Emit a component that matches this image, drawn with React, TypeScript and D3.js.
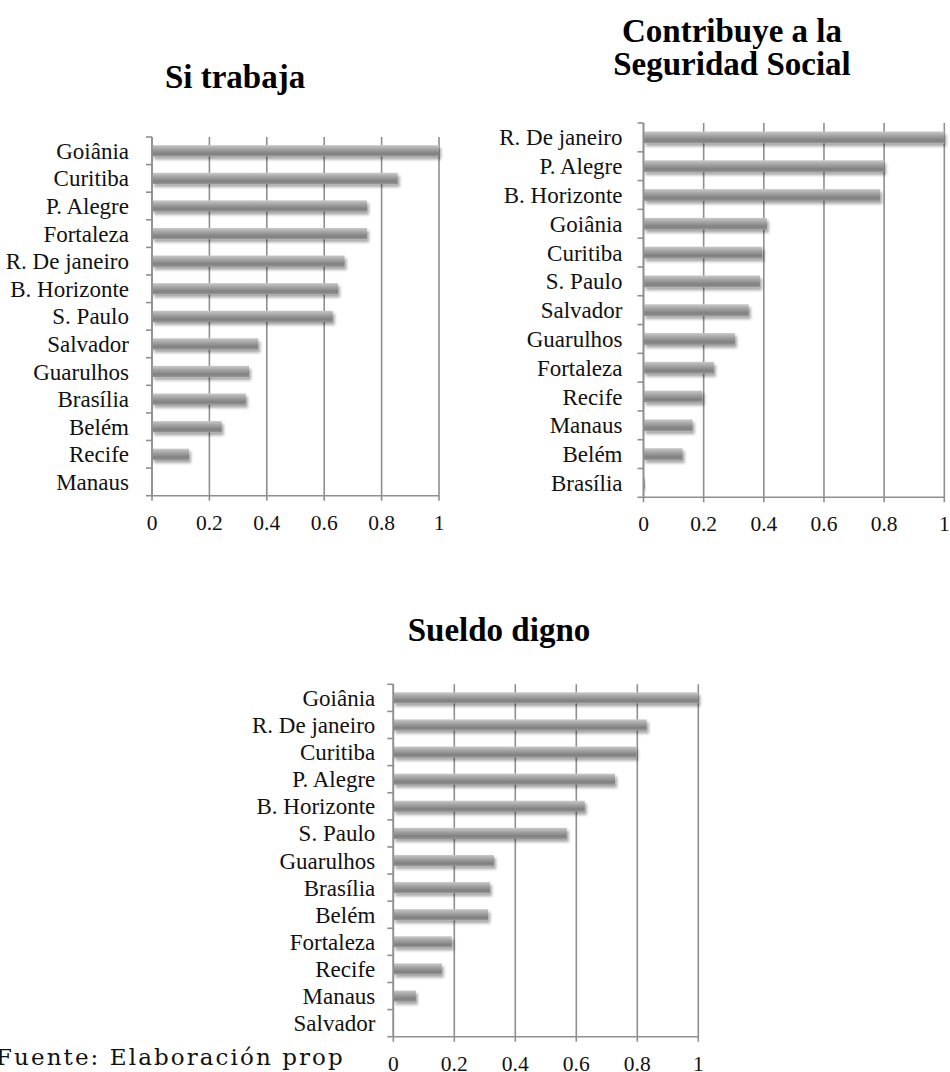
import React from "react";
import * as d3 from "d3";

// ---------- data ----------
const xTicks = [0, 0.2, 0.4, 0.6, 0.8, 1];
const xTickLabels = ["0", "0.2", "0.4", "0.6", "0.8", "1"];

const trabajaCities = ["Goiânia", "Curitiba", "P. Alegre", "Fortaleza", "R. De janeiro", "B. Horizonte", "S. Paulo", "Salvador", "Guarulhos", "Brasília", "Belém", "Recife", "Manaus"];
const trabajaValues = [1.0, 0.856, 0.749, 0.749, 0.671, 0.648, 0.63, 0.37, 0.338, 0.327, 0.243, 0.129, 0];

const seguridadCities = ["R. De janeiro", "P. Alegre", "B. Horizonte", "Goiânia", "Curitiba", "S. Paulo", "Salvador", "Guarulhos", "Fortaleza", "Recife", "Manaus", "Belém", "Brasília"];
const seguridadValues = [1.0, 0.8, 0.787, 0.41, 0.395, 0.387, 0.35, 0.304, 0.234, 0.196, 0.163, 0.13, 0.005];

const sueldoCities = ["Goiânia", "R. De janeiro", "Curitiba", "P. Alegre", "B. Horizonte", "S. Paulo", "Guarulhos", "Brasília", "Belém", "Fortaleza", "Recife", "Manaus", "Salvador"];
const sueldoValues = [1.0, 0.831, 0.796, 0.727, 0.628, 0.569, 0.33, 0.317, 0.311, 0.192, 0.159, 0.074, 0];

const FONT = "'Liberation Serif', 'Times New Roman', serif";
const FOOT_FONT = "'DejaVu Serif', serif";
const GRID = "#8f8f8f";

type ChartProps = {
  id: string;
  title: string[];
  titleX: number;
  titleY: number;
  cats: string[];
  vals: number[];
  x0: number;
  x1: number;
  y0: number;
  y1: number;
  labelGap: number;
};

function BarChart({ id, title, titleX, titleY, cats, vals, x0, x1, y0, y1, labelGap }: ChartProps) {
  const x = d3.scaleLinear().domain([0, 1]).range([x0, x1]);
  const y = d3.scaleBand<string>().domain(cats).range([y0, y1]).padding(0);
  const step = y.step();
  const barH = step * 0.41;
  const boundaries = d3.range(cats.length + 1).map((i) => y0 + i * step);
  return (
    <g>
      {title.map((t, i) => (
        <text key={i} x={titleX} y={titleY + i * 33} textAnchor="middle" fontFamily={FONT} fontWeight="bold" fontSize={33} fill="#000">
          {t}
        </text>
      ))}
      {xTicks.map((t) => (
        <line key={"g" + t} x1={x(t)} x2={x(t)} y1={y0} y2={y1 + 5} stroke={GRID} strokeWidth={1.6} />
      ))}
      {boundaries.map((b, i) => (
        <line key={"t" + i} x1={x0 - 6} x2={x0} y1={b} y2={b} stroke={GRID} strokeWidth={1.6} />
      ))}
      <line x1={x0} x2={x1} y1={y1} y2={y1} stroke={GRID} strokeWidth={1.6} />
      {cats.map((c, i) => {
        const cy = (y(c) as number) + step / 2;
        const w = x(vals[i]) - x0;
        return (
          <g key={c}>
            {w > 0 && (
              <rect x={x0} y={cy - barH / 2} width={w} height={barH} fill={`url(#${id}-grad)`} filter={`url(#${id}-shadow)`} />
            )}
            <text x={x0 - labelGap} y={cy} dy="0.35em" textAnchor="end" fontFamily={FONT} fontSize={23} fill="#111">
              {c}
            </text>
          </g>
        );
      })}
      <line x1={x0} x2={x0} y1={y0} y2={y1} stroke={GRID} strokeWidth={1.6} />
      {xTicks.map((t, i) => (
        <text key={"l" + t} x={x(t)} y={y1 + 34} textAnchor="middle" fontFamily={FONT} fontSize={21.5} fill="#111">
          {xTickLabels[i]}
        </text>
      ))}
      <defs>
        <linearGradient id={`${id}-grad`} x1="0" y1="0" x2="0" y2="1">
          <stop offset="0" stopColor="#c9c9c9" />
          <stop offset="0.3" stopColor="#a9a9a9" />
          <stop offset="0.75" stopColor="#808080" />
          <stop offset="1" stopColor="#959595" />
        </linearGradient>
        <filter id={`${id}-shadow`} x="-5%" y="-50%" width="115%" height="250%">
          <feDropShadow dx="2" dy="3" stdDeviation="1.8" floodColor="#000" floodOpacity="0.35" />
        </filter>
      </defs>
    </g>
  );
}

export default function App() {
  return (
    <svg width={950} height={1072} style={{ position: "absolute", left: 0, top: 0, background: "#fff" }}>
      <defs>
        <clipPath id="foot-clip">
          <rect x={0} y={1030} width={345} height={42} />
        </clipPath>
      </defs>
      <rect x={0} y={0} width={950} height={1072} fill="#fff" />
      <text x={-4} y={1065} fontFamily={FOOT_FONT} fontSize={23} fill="#111" clipPath="url(#foot-clip)" textLength={372} lengthAdjust="spacing">
        Fuente: Elaboración propia
      </text>
      <BarChart id="c1" title={["Si trabaja"]} titleX={235} titleY={88} cats={trabajaCities} vals={trabajaValues} x0={152} x1={439} y0={137} y1={495.7} labelGap={23} />
      <BarChart id="c2" title={["Contribuye a la", "Seguridad Social"]} titleX={732} titleY={42} cats={seguridadCities} vals={seguridadValues} x0={643.5} x1={944.3} y0={123} y1={497.3} labelGap={21} />
      <BarChart id="c3" title={["Sueldo digno"]} titleX={499} titleY={641} cats={sueldoCities} vals={sueldoValues} x0={393.3} x1={698.3} y0={684.3} y1={1036.7} labelGap={18} />
    </svg>
  );
}
